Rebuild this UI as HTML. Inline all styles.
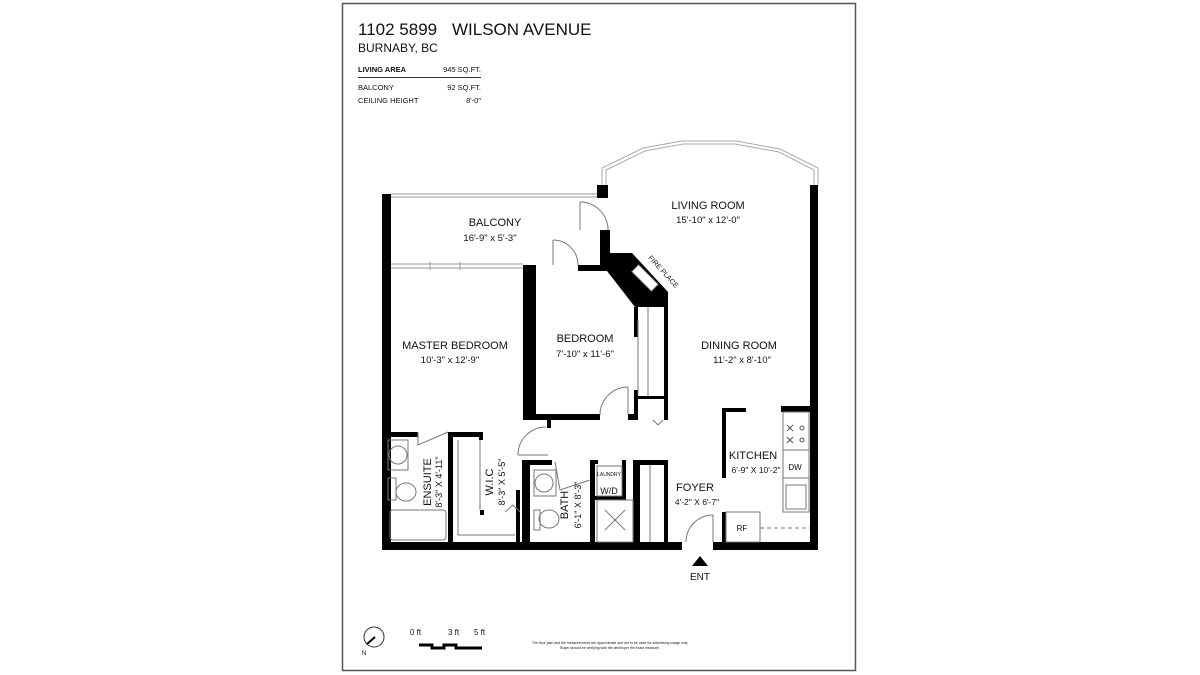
<!DOCTYPE html>
<html><head><meta charset="utf-8"><style>
html,body{margin:0;padding:0;background:#fff}
svg{display:block}
text{font-family:"Liberation Sans",sans-serif;fill:#111}
</style></head><body>
<svg width="1200" height="675" viewBox="0 0 1200 675" xmlns="http://www.w3.org/2000/svg">
<rect x="0" y="0" width="1200" height="675" fill="#fff"/>
<rect x="342.5" y="3.5" width="513" height="667" fill="none" stroke="#555" stroke-width="1.5"/>
<!-- header -->
<text x="358" y="35" font-size="17">1102 5899</text>
<text x="452" y="35" font-size="17">WILSON AVENUE</text>
<text x="358" y="52" font-size="12" fill="#333">BURNABY, BC</text>
<text x="358" y="72" font-size="7.5" font-weight="bold">LIVING AREA</text>
<text x="481" y="72" font-size="7.5" text-anchor="end">945 SQ.FT.</text>
<line x1="358" y1="77.5" x2="481" y2="77.5" stroke="#333" stroke-width="1"/>
<text x="358" y="90" font-size="7.5" fill="#444">BALCONY</text>
<text x="481" y="90" font-size="7.5" text-anchor="end" fill="#444">92 SQ.FT.</text>
<text x="358" y="103" font-size="7.5" fill="#444">CEILING HEIGHT</text>
<text x="481" y="103" font-size="7.5" text-anchor="end" fill="#444">8'-0"</text>

<!-- bay window -->
<g fill="none" stroke="#aaa" stroke-width="1">
<polyline points="602,185 602,168 643,148 682,141 736,141 780,149 818,168 818,185"/>
<polyline points="606,185 606,170 645,151 683,144 735,144 779,152 814,170 814,185"/>
</g>
<!-- balcony rails -->
<g stroke="#999" stroke-width="1">
<line x1="391" y1="194" x2="597" y2="194"/><line x1="391" y1="197" x2="597" y2="197"/>
<line x1="391" y1="264" x2="523" y2="264"/><line x1="391" y1="268" x2="523" y2="268"/>
<line x1="430" y1="262" x2="430" y2="270"/><line x1="460" y1="262" x2="460" y2="270"/>
</g>
<g fill="#000">
<rect x="382" y="194" width="9" height="356"/>
<rect x="382" y="542" width="300" height="8"/>
<rect x="713" y="542" width="105" height="8"/>
<rect x="810" y="185" width="8" height="365"/>
<rect x="597" y="185" width="11" height="13"/>
<rect x="600" y="230" width="10" height="40"/>
<rect x="578" y="265" width="30" height="6"/>
<polygon points="600,262 610,253 632,253 668,292 668,307 635,307"/>
<rect x="523" y="265" width="13" height="155"/>
<rect x="523" y="414" width="77" height="6"/>
<rect x="628" y="414" width="8" height="6"/>
<rect x="634" y="307" width="4" height="30"/>
<rect x="634" y="390" width="4" height="30"/>
<rect x="664" y="307" width="4" height="113"/>
<rect x="636" y="396" width="30" height="3"/>
<rect x="382" y="432" width="36" height="5"/>
<rect x="448" y="432" width="5" height="118"/>
<rect x="448" y="432" width="34" height="5"/>
<rect x="479" y="432" width="4" height="8"/>
<rect x="547" y="420" width="4" height="8"/>
<rect x="480" y="510" width="4" height="5"/>
<rect x="516" y="490" width="4" height="52"/>
<rect x="522" y="460" width="8" height="90"/>
<rect x="522" y="460" width="30" height="5"/>
<rect x="590" y="460" width="5" height="82"/>
<rect x="590" y="460" width="8" height="4"/>
<rect x="622" y="460" width="4" height="40"/>
<rect x="595" y="496" width="31" height="4"/>
<rect x="633" y="460" width="7" height="82"/>
<rect x="633" y="460" width="35" height="5"/>
<rect x="664" y="460" width="4" height="82"/>
<rect x="722" y="408" width="4" height="70"/>
<rect x="722" y="408" width="24" height="4"/>
<rect x="722" y="512" width="4" height="32"/>
<rect x="781" y="406" width="37" height="6"/>
</g>
<g transform="translate(645,278) rotate(45)">
<rect x="-14" y="-5" width="28" height="10" fill="#fff" stroke="#555" stroke-width="1"/>
</g>
<text x="0" y="0" font-size="7" transform="translate(648,258) rotate(48)">FIRE PLACE</text>
<g fill="none" stroke="#777" stroke-width="1">
<path d="M608,230 A28,28 0 0 0 580,202"/><line x1="580" y1="202" x2="580" y2="230"/>
<path d="M578,265 A25,25 0 0 0 553,240"/><line x1="553" y1="240" x2="553" y2="265"/>
<path d="M600,415 A28,28 0 0 1 628,387"/><line x1="628" y1="387" x2="628" y2="415"/>
<path d="M518,455 A28,28 0 0 1 546,427"/><line x1="518" y1="455" x2="548" y2="455"/>
<path d="M686,542 A27,27 0 0 1 713,515"/><line x1="713" y1="515" x2="713" y2="542"/>
<line x1="638" y1="320" x2="638" y2="395"/>
<line x1="648" y1="307" x2="648" y2="396"/>
<line x1="653" y1="420" x2="658" y2="425"/><line x1="658" y1="425" x2="663" y2="420"/>
<polyline points="418,432 418,445 448,432"/>
<rect x="388" y="440" width="20" height="30"/><circle cx="398" cy="455" r="9"/>
<rect x="388" y="478" width="8" height="22"/><ellipse cx="406" cy="492" rx="10" ry="9"/>
<rect x="390" y="510" width="56" height="30" rx="3"/>
<line x1="458" y1="440" x2="458" y2="535"/><line x1="458" y1="535" x2="515" y2="535"/>
<line x1="480" y1="440" x2="480" y2="510"/>
<polyline points="505,512 513,505 520,512"/>
<rect x="534" y="470" width="22" height="26"/><circle cx="544" cy="483" r="9"/>
<ellipse cx="549" cy="519" rx="10" ry="9"/><rect x="534" y="510" width="6" height="20"/>
<polyline points="555,462 560,490 590,480"/>
<rect x="597" y="466" width="25" height="30"/>
<rect x="597" y="500" width="36" height="42"/>
<line x1="605" y1="510" x2="625" y2="530"/><line x1="625" y1="510" x2="605" y2="530"/>
<line x1="650" y1="465" x2="650" y2="542"/>
<rect x="726" y="512" width="34" height="30"/>
<line x1="760" y1="528" x2="810" y2="528" stroke-dasharray="4,3"/>
<rect x="783" y="412" width="26" height="100"/>
<line x1="783" y1="450" x2="809" y2="450"/>
<line x1="783" y1="478" x2="809" y2="478"/>
<rect x="786" y="485" width="20" height="24"/>
</g>
<g stroke="#555" stroke-width="1">
<line x1="787" y1="425" x2="793" y2="431"/><line x1="793" y1="425" x2="787" y2="431"/>
<line x1="787" y1="437" x2="793" y2="443"/><line x1="793" y1="437" x2="787" y2="443"/>
<circle cx="802" cy="428" r="2" fill="none"/><circle cx="802" cy="440" r="2" fill="none"/>
</g>
<g font-size="11" text-anchor="middle">
<text x="495" y="226">BALCONY</text>
<text x="490" y="241" font-size="9.5">16'-9"  x  5'-3"</text>
<text x="708" y="209">LIVING ROOM</text>
<text x="708" y="223" font-size="9.5">15'-10"  x  12'-0"</text>
<text x="455" y="349">MASTER BEDROOM</text>
<text x="450" y="363" font-size="9.5">10'-3"  x  12'-9"</text>
<text x="585" y="342">BEDROOM</text>
<text x="585" y="357" font-size="9.5">7'-10"  x  11'-6"</text>
<text x="739" y="349">DINING ROOM</text>
<text x="742" y="363" font-size="9.5">11'-2"  x  8'-10"</text>
<text x="753" y="459">KITCHEN</text>
<text x="756" y="473" font-size="8.5">6'-9" X 10'-2"</text>
<text x="695" y="491">FOYER</text>
<text x="697" y="505" font-size="8.5">4'-2" X 6'-7"</text>
<text x="795" y="470" font-size="8">DW</text>
<text x="742" y="531" font-size="8">RF</text>
<text x="609" y="476" font-size="5">LAUNDRY</text>
<text x="609" y="494" font-size="9">W/D</text>
<text x="700" y="580" font-size="10">ENT</text>
</g>
<g font-size="11" text-anchor="middle">
<text transform="translate(431,482) rotate(-90)">ENSUITE</text>
<text transform="translate(442,482) rotate(-90)" font-size="9">8'-3" X 4'-11"</text>
<text transform="translate(493,482) rotate(-90)">W.I.C</text>
<text transform="translate(505,482) rotate(-90)" font-size="9">8'-3" X 5'-5"</text>
<text transform="translate(568,505) rotate(-90)">BATH</text>
<text transform="translate(581,505) rotate(-90)" font-size="9">6'-1" X 8'-3"</text>
</g>
<polygon points="692,566 708,566 700,556" fill="#000"/>
<circle cx="374" cy="637" r="10" fill="none" stroke="#333" stroke-width="1"/>
<line x1="367" y1="644" x2="375" y2="637" stroke="#000" stroke-width="2"/>
<text x="362" y="655" font-size="6">N</text>
<text x="410" y="635" font-size="8">0 ft</text>
<text x="448" y="635" font-size="8">3 ft</text>
<text x="474" y="635" font-size="8">5 ft</text>
<polyline points="419,645 432,645 432,648 444,648 444,645 456,645 456,648 482,648" fill="none" stroke="#000" stroke-width="3"/>
<text x="610" y="644" font-size="3.5" text-anchor="middle" fill="#666">The floor plan and the measurements are approximate and are to be used for advertising usage only.</text>
<text x="610" y="649" font-size="3.5" text-anchor="middle" fill="#666">Buyer should be verifying with the developer the exact measure.</text>
</svg>
</body></html>
